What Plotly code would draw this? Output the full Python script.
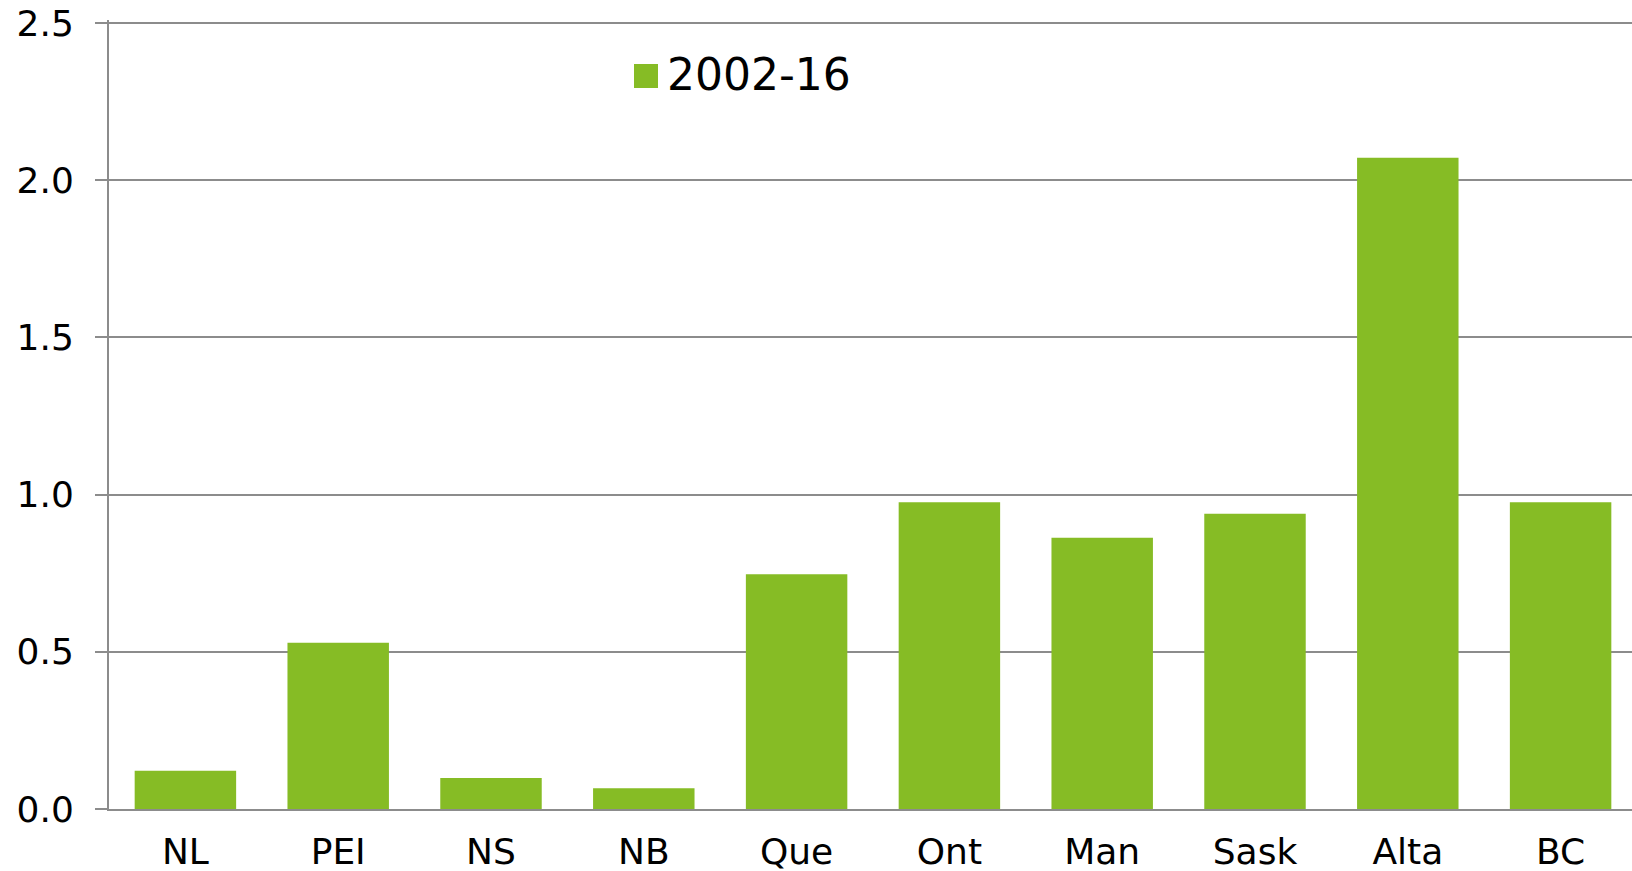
import plotly.graph_objects as go

categories = ["NL", "PEI", "NS", "NB", "Que", "Ont", "Man", "Sask", "Alta", "BC"]
values_2002_16 = [0.122, 0.529, 0.099, 0.066, 0.747, 0.976, 0.863, 0.939, 2.072, 0.976]
series_name = "2002-16"
y_ticks = [0.0, 0.5, 1.0, 1.5, 2.0, 2.5]

GREEN = "#86bc25"
GRID = "#8c8c8c"
FONT = "DejaVu Sans"

# plot area runs slightly past the right window edge, as in the reference
W, H = 1637, 871
L, R, T, B = 109, 0, 20, 62
pw = W - L - R
ph = H - T - B

def px_x(x):
    return (x - L) / pw

def px_y(y):
    return (H - B - y) / ph

fig = go.Figure()
fig.add_trace(go.Bar(
    x=categories,
    y=values_2002_16,
    name=series_name,
    marker=dict(color=GREEN, line=dict(width=0)),
    width=0.664,
    showlegend=False,
))

fig.update_layout(
    width=W, height=H,
    margin=dict(l=L, r=R, t=T, b=B, autoexpand=False),
    plot_bgcolor="white",
    paper_bgcolor="white",
    font=dict(family=FONT, size=36, color="black"),
    showlegend=False,
)
fig.update_yaxes(
    range=[0, 2.51],
    tickvals=y_ticks,
    tickformat=".1f",
    showgrid=True, gridcolor=GRID, gridwidth=2,
    showline=True, linecolor=GRID, linewidth=2,
    ticks="outside", ticklen=12, tickcolor=GRID, tickwidth=2,
    ticklabelstandoff=14,
    ticklabeloverflow="allow",
    zeroline=False,
    automargin=False,
    tickfont=dict(family=FONT, size=36, color="black"),
)
fig.update_xaxes(
    showline=True, linecolor=GRID, linewidth=2,
    ticks="", showgrid=False,
    ticklabelstandoff=10,
    ticklabeloverflow="allow",
    automargin=False,
    tickfont=dict(family=FONT, size=36, color="black"),
)

# legend drawn manually (larger marker than plotly legend allows)
fig.add_shape(type="rect", xref="paper", yref="paper",
              x0=px_x(634), x1=px_x(658), y0=px_y(88), y1=px_y(64),
              fillcolor=GREEN, line=dict(width=0))
fig.add_annotation(text=series_name, xref="paper", yref="paper",
                   x=px_x(665), y=px_y(74), xanchor="left", yanchor="middle",
                   showarrow=False, font=dict(family=FONT, size=44, color="black"))

fig.write_html(
    "out.html",
    config={"displayModeBar": False},
    post_script="document.body.style.margin='0';document.body.style.overflow='hidden';",
)
